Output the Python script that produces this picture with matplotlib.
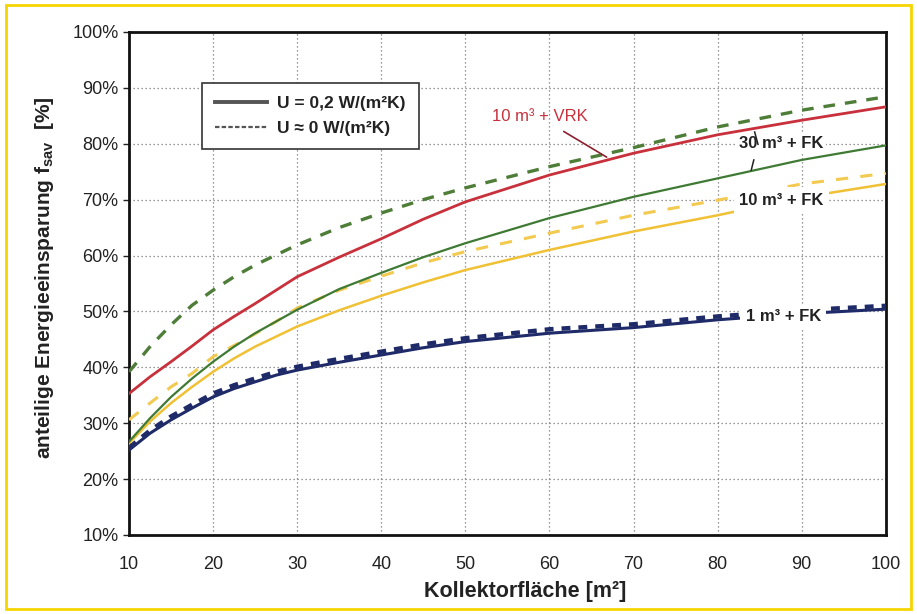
import matplotlib
matplotlib.use("Agg")
import matplotlib.pyplot as plt
from matplotlib.patches import Rectangle
from matplotlib.lines import Line2D

plt.rcParams["font.family"] = ["Liberation Sans", "DejaVu Sans"]
plt.rcParams["mathtext.fontset"] = "custom"
plt.rcParams["mathtext.rm"] = "Liberation Sans"
plt.rcParams["mathtext.bf"] = "Liberation Sans:bold"

# Kollektorfläche [m²]
area = [10, 12.5, 15, 17.5, 20, 22.5, 25, 27.5, 30, 35, 40, 45, 50, 60, 70, 80, 90, 100]

# anteilige Energieeinsparung [%]
vrk_10 = [35.3, 38.3, 41.0, 43.8, 46.7, 49.1, 51.4, 53.8, 56.2, 59.7, 63.0, 66.5, 69.6, 74.4, 78.3, 81.6, 84.2, 86.6]
fk_30_u0 = [39.2, 43.7, 47.6, 51.1, 53.8, 56.2, 58.3, 60.1, 61.9, 65.0, 67.6, 70.0, 72.1, 75.9, 79.3, 83.0, 86.0, 88.4]
fk_30 = [26.7, 30.9, 34.7, 38.0, 41.0, 43.7, 46.1, 48.2, 50.3, 54.0, 56.9, 59.7, 62.2, 66.7, 70.5, 73.8, 77.1, 79.7]
fk_10_u0 = [30.6, 33.6, 36.5, 38.9, 41.9, 43.9, 46.0, 48.2, 50.6, 53.8, 56.3, 58.7, 60.7, 64.0, 67.2, 69.9, 72.8, 74.7]
fk_10 = [26.4, 30.3, 33.6, 36.5, 39.2, 41.6, 43.7, 45.5, 47.3, 50.2, 52.8, 55.2, 57.4, 61.0, 64.3, 67.2, 70.4, 72.8]
fk_1 = [25.2, 28.2, 30.6, 32.7, 34.7, 36.2, 37.4, 38.6, 39.5, 40.9, 42.2, 43.5, 44.6, 46.1, 47.1, 48.5, 49.6, 50.4]
fk_1_u0 = [25.6, 28.7, 31.2, 33.3, 35.3, 36.8, 38.0, 39.2, 40.1, 41.5, 42.8, 44.1, 45.2, 46.8, 47.7, 49.1, 50.2, 51.0]

x_ticks = list(range(10, 101, 10))
y_ticks = list(range(10, 101, 10))

RED = "#C8303C"
GREEN = "#3F7A34"
GREEN_D = "#4E7D38"
YELLOW = "#F0C035"
YELLOW_D = "#F3CA50"
BLUE = "#1F2A68"

fig = plt.figure(figsize=(9.17, 6.14), dpi=100)
ax = fig.add_axes([0.1407, 0.1287, 0.8253, 0.8193])

ax.plot(area, fk_1, color=BLUE, lw=2.2, zorder=3)
ax.plot(area, fk_1_u0, color=BLUE, lw=3.2, dashes=(2, 1.8), zorder=3)
ax.plot(area, fk_10, color=YELLOW, lw=1.8, zorder=3)
ax.plot(area, fk_10_u0, color=YELLOW_D, lw=2.2, dashes=(4, 4), zorder=3)
ax.plot(area, fk_30, color=GREEN, lw=1.6, zorder=4)
ax.plot(area, fk_30_u0, color=GREEN_D, lw=2.4, dashes=(3.5, 3), zorder=3)
ax.plot(area, vrk_10, color=RED, lw=2.0, zorder=4)

ax.set_xlim(10, 100)
ax.set_ylim(10, 100)
ax.set_xticks(x_ticks)
ax.set_yticks(y_ticks)
ax.set_yticklabels([f"{v}%" for v in y_ticks])
ax.tick_params(axis="both", labelsize=13, colors="#222222")
ax.tick_params(axis="y", direction="out", length=4, width=1)
ax.tick_params(axis="x", direction="in", length=0, pad=15)
ax.grid(True, color="#777777", lw=0.9, linestyle=(0, (1, 2.2)))
for s in ax.spines.values():
    s.set_linewidth(2)
    s.set_color("#111111")

fig.text(525 / 917, 1 - 592 / 614, "Kollektorfläche [m²]", fontsize=15.5,
         fontweight="bold", ha="center", va="center", color="#222222")
fig.text(45 / 917, 1 - 278 / 614, r"anteilige Energieeinsparung $\mathbf{f}_{\mathbf{sav}}$  [%]",
         fontsize=15, fontweight="bold", rotation=90, ha="center", va="center", color="#222222")

handles = [Line2D([], [], color="#555555", lw=2.8),
           Line2D([], [], color="#555555", lw=1.6, dashes=(2, 1))]
leg = ax.legend(handles, ["U = 0,2 W/(m²K)", "U ≈ 0 W/(m²K)"], loc="upper left",
                bbox_to_anchor=(0.096, 0.899), borderaxespad=0, fancybox=False,
                framealpha=1, edgecolor="#333333", prop={"size": 12.5, "weight": "bold"},
                handlelength=3.0, handletextpad=0.6, borderpad=0.75, labelspacing=0.55)
leg.get_frame().set_linewidth(1.2)
for t in leg.get_texts():
    t.set_color("#222222")

ax.annotate("10 m³ + VRK", xy=(66.8, 77.6), xytext=(58.8, 84.8), fontsize=12,
            color=RED, ha="center", va="center",
            arrowprops=dict(arrowstyle="-", color="#8A2030", lw=1.2, shrinkA=6, shrinkB=0))
ax.text(87.6, 80.1, "30 m³ + FK", fontsize=12, fontweight="bold", ha="center", va="center",
        color="#222222", bbox=dict(facecolor="white", edgecolor="none", pad=1.5), zorder=6)
ax.plot([84.8, 84.4], [79.9, 82.1], color="#222222", lw=1.1, zorder=6)
ax.plot([84.3, 84.0], [77.1, 75.3], color="#222222", lw=1.1, zorder=6)
ax.text(87.6, 69.9, "10 m³ + FK", fontsize=12, fontweight="bold", ha="center", va="center",
        color="#222222", bbox=dict(facecolor="white", edgecolor="none", pad=4), zorder=6)
ax.text(87.8, 49.0, "1 m³ + FK", fontsize=12, fontweight="bold", ha="center", va="center",
        color="#222222", bbox=dict(facecolor="white", edgecolor="none", pad=4), zorder=6)

fig.patches.append(Rectangle((6 / 917, 5 / 614), 905 / 917, 604 / 614, transform=fig.transFigure,
                             fill=False, edgecolor="#F5D500", lw=2))

fig.savefig("out.png", dpi=100)
